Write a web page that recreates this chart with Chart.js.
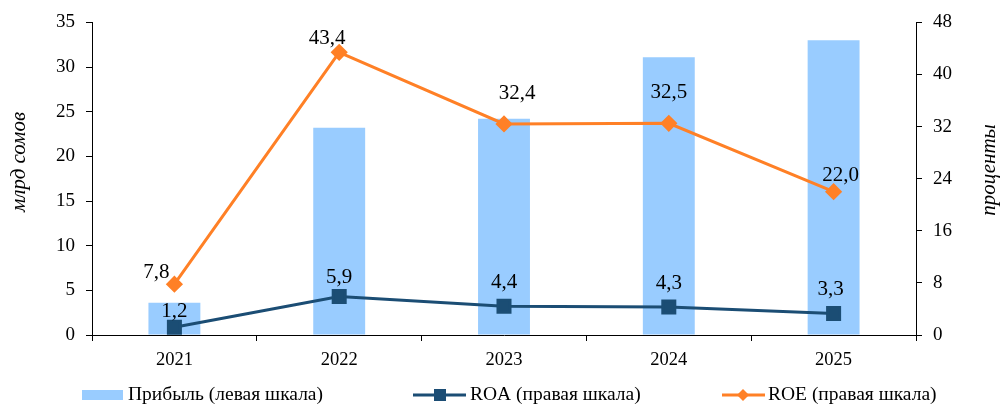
<!DOCTYPE html>
<html>
<head>
<meta charset="utf-8">
<script src="https://cdn.jsdelivr.net/npm/chart.js@4"></script>
<style>
  html, body { margin: 0; padding: 0; background: #fff; }
  #wrap { width: 1003px; height: 407px; }
</style>
</head>
<body>
<div id="wrap"><canvas id="chart" width="1003" height="407"></canvas></div>
<script>
// данные
var years = ['2021', '2022', '2023', '2024', '2025'];
var profit = [3.6, 23.2, 24.2, 31.1, 33.0];   // млрд сомов, левая шкала
var roa = [1.2, 5.9, 4.4, 4.3, 3.3];          // %, правая шкала
var roe = [7.8, 43.4, 32.4, 32.5, 22.0];      // %, правая шкала
var leftTicks = [0, 5, 10, 15, 20, 25, 30, 35];
var rightTicks = [0, 8, 16, 24, 32, 40, 48];

// подписи: сдвиги от точки (dx, dy)
var roeLabelShift = [[-18, -12], [-12, -14], [13, -31], [0, -31], [7, -16]];
var roaLabelShift = [[0, -16], [0, -19], [0, -24], [0, -24], [-3, -24]];

var FONT = "'Liberation Serif', 'Times New Roman', serif";
var BAR = '#99CCFF', ROA_C = '#1B4D74', ROE_C = '#FF8026';

function fmt(v) { return v.toFixed(1).replace('.', ','); }

var labelsPlugin = {
  id: 'pointLabels',
  afterDatasetsDraw: function (chart) {
    var ctx = chart.ctx;
    ctx.save();
    ctx.font = '21px ' + FONT;
    ctx.fillStyle = '#000';
    ctx.textAlign = 'center';
    ctx.textBaseline = 'middle';
    [[2, roe, roeLabelShift], [1, roa, roaLabelShift]].forEach(function (s) {
      var meta = chart.getDatasetMeta(s[0]);
      meta.data.forEach(function (pt, i) {
        ctx.fillText(fmt(s[1][i]), pt.x + s[2][i][0], pt.y + s[2][i][1]);
      });
    });
    ctx.restore();
  }
};

// названия осей (обе читаются снизу вверх)
var axisTitlesPlugin = {
  id: 'axisTitles',
  afterDraw: function (chart) {
    var ctx = chart.ctx;
    ctx.save();
    ctx.font = 'italic 21px ' + FONT;
    ctx.fillStyle = '#000';
    ctx.textAlign = 'center';
    ctx.textBaseline = 'middle';
    [['млрд сомов', 19, 162], ['проценты', 989, 170]].forEach(function (t) {
      ctx.save();
      ctx.translate(t[1], t[2]);
      ctx.rotate(-Math.PI / 2);
      ctx.fillText(t[0], 0, 0);
      ctx.restore();
    });
    ctx.restore();
  }
};

var legendPlugin = {
  id: 'bottomLegend',
  afterDraw: function (chart) {
    var ctx = chart.ctx, y = 395;
    ctx.save();
    ctx.font = '19.5px ' + FONT;
    ctx.fillStyle = '#000';
    ctx.textBaseline = 'middle';
    ctx.textAlign = 'left';
    // прибыль
    ctx.fillStyle = BAR;
    ctx.fillRect(82, y - 5, 41, 10);
    ctx.fillStyle = '#000';
    ctx.fillText('Прибыль (левая шкала)', 128, y);
    // ROA
    ctx.strokeStyle = ROA_C; ctx.lineWidth = 3;
    ctx.beginPath(); ctx.moveTo(413, y); ctx.lineTo(466, y); ctx.stroke();
    ctx.fillStyle = ROA_C; ctx.fillRect(434, y - 6, 12, 12);
    ctx.fillStyle = '#000';
    ctx.fillText('ROA (правая шкала)', 470, y);
    // ROE
    ctx.strokeStyle = ROE_C;
    ctx.beginPath(); ctx.moveTo(722, y); ctx.lineTo(765, y); ctx.stroke();
    ctx.fillStyle = ROE_C;
    ctx.beginPath(); ctx.moveTo(743, y - 6); ctx.lineTo(749, y); ctx.lineTo(743, y + 6); ctx.lineTo(737, y); ctx.closePath(); ctx.fill();
    ctx.fillStyle = '#000';
    ctx.fillText('ROE (правая шкала)', 768, y);
    ctx.restore();
  }
};

new Chart(document.getElementById('chart'), {
  type: 'bar',
  data: {
    labels: years,
    datasets: [
      { type: 'bar', label: 'Прибыль (левая шкала)', data: profit, yAxisID: 'y',
        backgroundColor: BAR, categoryPercentage: 1, barPercentage: 0.315, order: 3 },
      { type: 'line', label: 'ROA (правая шкала)', data: roa, yAxisID: 'y1',
        borderColor: ROA_C, backgroundColor: ROA_C, borderWidth: 3,
        pointStyle: 'rect', pointRadius: 8.5, pointHoverRadius: 8.5, order: 2 },
      { type: 'line', label: 'ROE (правая шкала)', data: roe, yAxisID: 'y1',
        borderColor: ROE_C, backgroundColor: ROE_C, borderWidth: 3,
        pointStyle: 'rectRot', pointRadius: 6.5, pointHoverRadius: 6.5, order: 1 }
    ]
  },
  options: {
    responsive: false,
    animation: false,
    layout: { padding: { top: 22, bottom: 0, left: 0, right: 0 } },
    plugins: { legend: { display: false }, tooltip: { enabled: false } },
    scales: {
      x: {
        grid: { display: true, offset: true, drawOnChartArea: false, drawTicks: true, tickLength: 6, color: '#000' },
        border: { display: true, color: '#000', width: 1 },
        ticks: { color: '#000', font: { family: FONT, size: 18.5 }, padding: 8 },
        afterFit: function (s) { s.height = 72; }
      },
      y: {
        position: 'left', min: 0, max: 35,
        afterBuildTicks: function (s) { s.ticks = leftTicks.map(function (v) { return { value: v }; }); },
        grid: { drawOnChartArea: false, drawTicks: true, tickLength: 6, color: '#000' },
        border: { display: true, color: '#000', width: 1 },
        ticks: { color: '#000', font: { family: FONT, size: 19 }, padding: 11 },
        afterFit: function (s) { s.width = 92; }
      },
      y1: {
        position: 'right', min: 0, max: 48,
        afterBuildTicks: function (s) { s.ticks = rightTicks.map(function (v) { return { value: v }; }); },
        grid: { drawOnChartArea: false, drawTicks: true, tickLength: 6, color: '#000' },
        border: { display: true, color: '#000', width: 1 },
        ticks: { color: '#000', font: { family: FONT, size: 19 }, padding: 11 },
        afterFit: function (s) { s.width = 87; }
      }
    }
  },
  plugins: [labelsPlugin, axisTitlesPlugin, legendPlugin]
});
</script>
</body>
</html>
